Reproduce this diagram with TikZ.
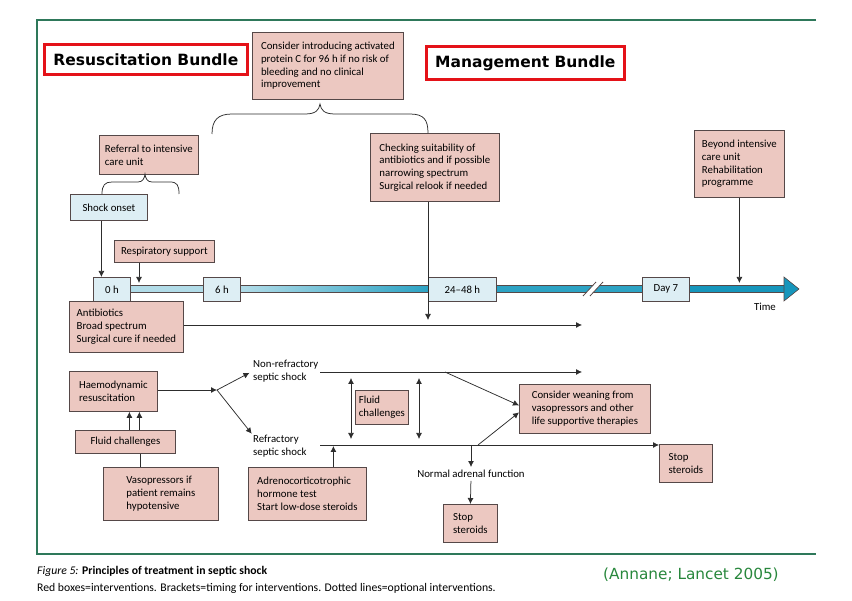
\documentclass[tikz,border=0pt]{standalone}
\usepackage{fontspec}
\setmainfont{Carlito}
\newfontfamily\verdana{DejaVu Sans}
\usetikzlibrary{arrows.meta,positioning,calc}

\definecolor{boxred}{RGB}{236,200,193}
\definecolor{boxblue}{RGB}{221,238,244}
\definecolor{boxedge}{RGB}{85,72,72}
\definecolor{wirecol}{RGB}{45,45,45}
\definecolor{framegreen}{RGB}{46,120,90}
\definecolor{bundlered}{RGB}{228,18,24}
\definecolor{barlight}{RGB}{178,220,232}
\definecolor{barteal}{RGB}{45,163,196}
\definecolor{bardark}{RGB}{22,150,188}
\definecolor{citegreen}{RGB}{40,135,60}

\begin{document}
\begin{tikzpicture}[x=1pt, y=-1pt,
  every node/.style={font=\fontsize{10.8}{12.8}\selectfont, inner sep=0pt},
  ibox/.style={draw=boxedge, line width=0.8pt, fill=boxred, align=left, anchor=north west},
  tbox/.style={draw=boxedge, line width=0.8pt, fill=boxblue, align=center, anchor=north west},
  bundle/.style={draw=bundlered, line width=2.6pt, fill=white, anchor=north west,
    font=\verdana\bfseries\fontsize{15.5}{17}\selectfont},
  plain/.style={draw=wirecol, line width=0.75pt},
  arr/.style={plain, -{Latex[length=6pt,width=6pt]}},
  dbl/.style={plain, {Latex[length=6pt,width=6pt]}-{Latex[length=6pt,width=6pt]}},
  lbl/.style={align=left, anchor=west}]
\useasboundingbox (0,0) rectangle (852,601);

% frame
\draw[framegreen, line width=1.6pt] (816,20) -- (37,20) -- (37,554) -- (816,554);

% bundles
\node[bundle, minimum width=203, minimum height=30] (resus) at (43,43) {Resuscitation Bundle};
\node[bundle, minimum width=198, minimum height=33] (manage) at (425,45) {Management Bundle};

% time bar
\foreach \a/\b/\c/\d in {130/203/barlight/barlight, 240/428/barlight/barteal,
                          496/642/barteal/barteal, 689/784/bardark/bardark}
  \shade[left color=\c, right color=\d, draw=boxedge, line width=0.6pt] (\a,285.5) rectangle (\b,292.5);
\filldraw[fill=bardark, draw=boxedge, line width=0.6pt] (784,277) -- (799,289) -- (784,301) -- cycle;
% break mark
\fill[white] (583,296) -- (590,296) -- (603,282) -- (596,282) -- cycle;
\draw[boxedge, line width=0.8pt] (583,296) -- (596,282) (590,296) -- (603,282);
\coordinate (bartop) at (0,283);

% time points
\node[tbox, minimum width=37, minimum height=24] (t0) at (93,277) {0 h};
\node[tbox, minimum width=37, minimum height=24] (t6) at (203,277) {6 h};
\node[tbox, minimum width=68, minimum height=24] (t24) at (428,277) {24--48 h};
\node[tbox, minimum width=47, minimum height=24] (t7) at (642,277) {Day 7};
\node (time) at (765,307) {Time};

% upper boxes
\node[ibox, minimum width=151, minimum height=67] (apc) at (252,32)
  {Consider introducing activated\\protein C for 96 h if no risk of\\bleeding and no clinical\\improvement};
\node[ibox, minimum width=99, minimum height=39] (ref) at (99,135) {Referral to intensive\\care unit};
\node[tbox, minimum width=77, minimum height=26, align=left] (shock) at (70,194) {Shock onset};
\node[ibox, minimum width=100, minimum height=22] (resp) at (114,240) {Respiratory support};
\node[ibox, minimum width=129, minimum height=68] (chk) at (370,133)
  {Checking suitability of\\antibiotics and if possible\\narrowing spectrum\\Surgical relook if needed};
\node[ibox, minimum width=90, minimum height=67] (beyond) at (694,130)
  {Beyond intensive\\care unit\\Rehabilitation\\programme};
\node[ibox, minimum width=114, minimum height=51] (abx) at (69,301)
  {Antibiotics\\Broad spectrum\\Surgical cure if needed};

% brackets
\draw[plain] (212,134) .. controls (212,120) and (218,114) .. (232,114) -- (305,114)
  .. controls (316,114) and (319,110) .. (320,104) .. controls (321,110) and (324,114) .. (335,114)
  -- (410,114) .. controls (424,114) and (428,120) .. (428,133);
\draw[plain] (102,194) .. controls (102,185) and (105,182) .. (112,182) -- (138,182)
  .. controls (143,182) and (144.5,178) .. (145,174) .. controls (145.5,178) and (147,182) .. (152,182)
  -- (170,182) .. controls (177,182) and (179,185) .. (179,194);

% arrows onto the time bar
\coordinate (abend) at (582,325);
\coordinate (abtip) at (0,320);
\draw[arr] ([xshift=-7.5pt]shock.south) -- ([xshift=-7.5pt]shock.south |- t0.north);
\draw[arr] ([xshift=25pt]resp.south west) -- ([xshift=25pt]resp.south west |- bartop);
\draw[arr] (chk.south -| t24.west) -- (t24.west |- abtip);
\draw[arr] (beyond.south) -- (beyond.south |- bartop);
\draw[arr] (abx.east |- abend) -- (abend);

% lower boxes
\node[ibox, minimum width=88, minimum height=40] (haemo) at (69,371) {Haemodynamic\\resuscitation};
\node[ibox, minimum width=100, minimum height=23] (fluid1) at (75,430) {Fluid challenges};
\node[ibox, minimum width=115, minimum height=53] (vaso) at (103,467) {Vasopressors if\\patient remains\\hypotensive};
\node[ibox, minimum width=53, minimum height=34] (fluid2) at (355,390) {Fluid\\challenges};
\node[ibox, minimum width=118, minimum height=53] (acth) at (248,467)
  {Adrenocorticotrophic\\hormone test\\Start low-dose steroids};
\node[ibox, minimum width=131, minimum height=49] (wean) at (519,384)
  {Consider weaning from\\vasopressors and other\\life supportive therapies};
\node[ibox, minimum width=54, minimum height=38] (stop1) at (443,504) {Stop\\steroids};
\node[ibox, minimum width=53, minimum height=38] (stop2) at (659,444) {Stop\\steroids};
\node[lbl] (nonref) at (253,371) {Non-refractory\\septic shock};
\node[lbl] (refr) at (253,446.5) {Refractory\\septic shock};
\node (normal) at (471,474) {Normal adrenal function};

% lower connectors
\coordinate (split) at (217,390);
\coordinate (nr) at (320,372);
\coordinate (rf) at (320,445);
\draw[arr] (haemo.east |- split) -- (split);
\draw[arr, shorten >=4pt] (split) -- (nonref.west);
\draw[arr, shorten >=2pt] (split) -- (refr.north west);
\foreach \dx in {4,14}
  \draw[arr] ([xshift=\dx pt]fluid1.north) -- ([xshift=\dx pt]fluid1.north |- haemo.south);
\draw[plain] ([xshift=-20.5pt]vaso.north) -- ([xshift=-20.5pt]vaso.north |- fluid1.south);
\draw[arr] (nr) -- (nr -| abend);
\draw[arr] (rf) -- (rf -| stop2.west);
\foreach \x in {351,419}
  \draw[dbl, shorten <=6pt, shorten >=6pt] (\x,0 |- nr) -- (\x,0 |- rf);
\draw[arr, shorten >=1pt] ([xshift=26pt]acth.north) -- ([xshift=26pt]acth.north |- rf);
\draw[arr] (445,0 |- nr) -- ([yshift=3.5pt]wean.west);
\draw[arr] (478,0 |- rf) -- ([yshift=-3.5pt]wean.west);
\draw[arr, shorten >=3pt] (normal.north |- rf) -- (normal.north);
\draw[arr, shorten <=3pt] (normal.south) -- (stop1.north);

% caption
\node[anchor=west, font=\fontsize{11.7}{13}\selectfont] (fig) at (37,571)
  {\textit{Figure 5:} \textbf{Principles of treatment in septic shock}};
\node[anchor=west, font=\fontsize{11.7}{13}\selectfont] (key) at (37,588)
  {Red boxes=interventions. Brackets=timing for interventions. Dotted lines=optional interventions.};
\node[anchor=west, text=citegreen, font=\verdana\fontsize{15.3}{17}\selectfont] (cite) at (603,575)
  {(Annane; Lancet 2005)};
\end{tikzpicture}
\end{document}
